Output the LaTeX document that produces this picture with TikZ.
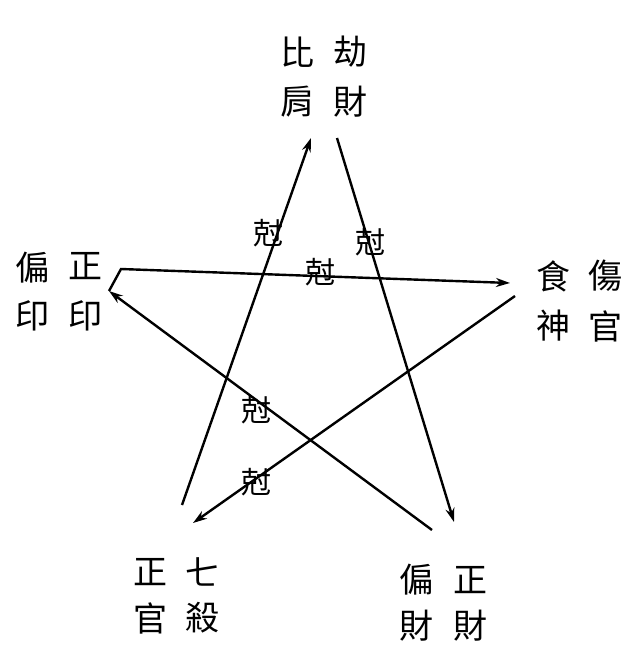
\documentclass[tikz,border=0pt]{standalone}
\usepackage{fontspec}
\newfontfamily\cjk{Noto Sans CJK TC}
\usetikzlibrary{arrows.meta}
\tikzset{
  zi/.style={font=\cjk\fontsize{34}{36}\selectfont, inner sep=0pt},
  ke/.style={font=\cjk\fontsize{30}{32}\selectfont, inner sep=0pt},
  line/.style={line width=2.4pt, -{Stealth[length=14pt,width=9pt]}}
}
\begin{document}
\begin{tikzpicture}[x=1pt,y=-1pt]
  \useasboundingbox (0,0) rectangle (633,664);

  % names of the five elements
  \node[zi] (bi)  at (297,52)  {比};
  \node[zi] (jie) at (350,52)  {劫};
  \node[zi] (jian) at (297,102) {肩};
  \node[zi] (cai1) at (350,102) {財};

  \node[zi] (pian1) at (32,268)  {偏};
  \node[zi] (zheng1) at (85,266) {正};
  \node[zi] (yin1) at (32,316)   {印};
  \node[zi] (yin2) at (85,316)   {印};

  \node[zi] (shi)  at (553,276) {食};
  \node[zi] (shang) at (605,276) {傷};
  \node[zi] (shen) at (553,326) {神};
  \node[zi] (guan1) at (605,326) {官};

  \node[zi] (zheng2) at (150,572) {正};
  \node[zi] (qi)   at (202,572) {七};
  \node[zi] (guan2) at (150,618) {官};
  \node[zi] (sha)  at (202,618) {殺};

  \node[zi] (pian2) at (416,580) {偏};
  \node[zi] (zheng3) at (470,580) {正};
  \node[zi] (cai2) at (416,626) {財};
  \node[zi] (cai3) at (470,626) {財};

  % end points of the lines
  \coordinate (top1) at (311,138);
  \coordinate (top2) at (337,138);
  \coordinate (lft1) at (121,269);
  \coordinate (lft2) at (109,291);
  \coordinate (rgt1) at (510,283);
  \coordinate (rgt2) at (515,296);
  \coordinate (bl1) at (182,505);
  \coordinate (bl2) at (193,523);
  \coordinate (br1) at (454,522);
  \coordinate (br2) at (432,530);

  \draw[line] (bl1) -- (top1);
  \draw[line] (top2) -- (br1);
  \draw[line] (lft2) -- (lft1) -- (rgt1);
  \draw[line] (rgt2) -- (bl2);
  \draw[line] (br2) -- (lft2);

  % ke labels
  \node[ke] (k1) at (268,233) {尅};
  \node[ke] (k2) at (370,242) {尅};
  \node[ke] (k3) at (320,272) {尅};
  \node[ke] (k4) at (256,410) {尅};
  \node[ke] (k5) at (256,482) {尅};
\end{tikzpicture}
\end{document}
